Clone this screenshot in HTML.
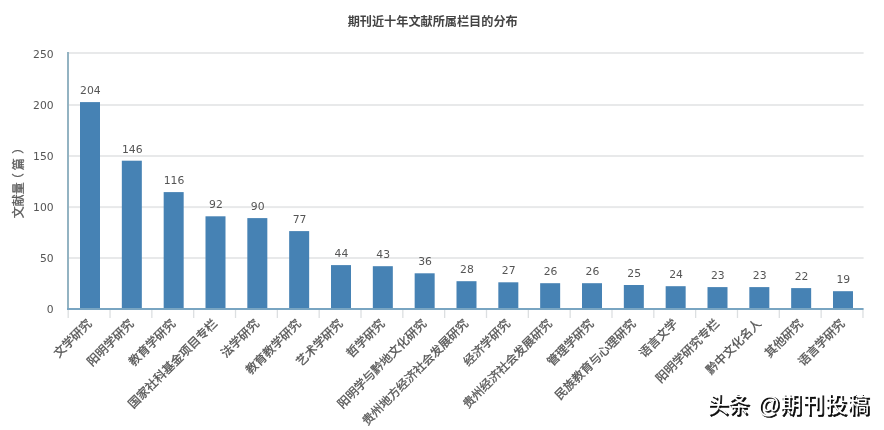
<!DOCTYPE html>
<html lang="zh-CN"><head><meta charset="utf-8"><title>期刊近十年文献所属栏目的分布</title>
<style>
html,body{margin:0;padding:0;background:#fff;}
body{width:884px;height:430px;overflow:hidden;font-family:"Liberation Sans","Noto Sans CJK SC",sans-serif;}
svg{display:block;}
.t{font-family:"Liberation Sans","Noto Sans CJK SC",sans-serif;font-weight:bold;font-size:12.15px;fill:#444;}
.yl{font-family:"DejaVu Sans","Noto Sans CJK SC",sans-serif;font-size:10.75px;fill:#555;}
.dl{font-family:"DejaVu Sans","Noto Sans CJK SC",sans-serif;font-size:10.8px;fill:#555;}
.xl{font-family:"Liberation Sans","Noto Sans CJK SC",sans-serif;font-size:12px;fill:#555;stroke:#555;stroke-width:0.3;}
.yt{font-family:"Liberation Sans","Noto Sans CJK SC",sans-serif;font-size:12px;fill:#5a5a5a;stroke:#5a5a5a;stroke-width:0.3;}
.wm{font-family:"Liberation Sans","Noto Sans CJK SC",sans-serif;font-size:21.2px;font-weight:400;}
</style></head><body>
<svg width="884" height="430" viewBox="0 0 884 430">
<rect width="884" height="430" fill="#ffffff"/>
<text class="t" x="432.7" y="26.3" text-anchor="middle">期刊近十年文献所属栏目的分布</text>
<rect x="68.0" y="257.00" width="795.60" height="2" fill="#e8e9ea"/>
<rect x="68.0" y="206.10" width="795.60" height="2" fill="#e8e9ea"/>
<rect x="68.0" y="155.00" width="795.60" height="2" fill="#e8e9ea"/>
<rect x="68.0" y="104.00" width="795.60" height="2" fill="#e8e9ea"/>
<rect x="68.0" y="52.00" width="795.60" height="2" fill="#e8e9ea"/>
<text class="yl" x="53.6" y="312.80" text-anchor="end">0</text>
<text class="yl" x="53.6" y="261.82" text-anchor="end">50</text>
<text class="yl" x="53.6" y="210.84" text-anchor="end">100</text>
<text class="yl" x="53.6" y="159.86" text-anchor="end">150</text>
<text class="yl" x="53.6" y="108.88" text-anchor="end">200</text>
<text class="yl" x="53.6" y="57.90" text-anchor="end">250</text>
<line x1="68.20" y1="310.0" x2="68.20" y2="318.0" stroke="#dcdfe1" stroke-width="1.3"/>
<line x1="110.03" y1="310.0" x2="110.03" y2="318.0" stroke="#dcdfe1" stroke-width="1.3"/>
<line x1="151.86" y1="310.0" x2="151.86" y2="318.0" stroke="#dcdfe1" stroke-width="1.3"/>
<line x1="193.69" y1="310.0" x2="193.69" y2="318.0" stroke="#dcdfe1" stroke-width="1.3"/>
<line x1="235.52" y1="310.0" x2="235.52" y2="318.0" stroke="#dcdfe1" stroke-width="1.3"/>
<line x1="277.35" y1="310.0" x2="277.35" y2="318.0" stroke="#dcdfe1" stroke-width="1.3"/>
<line x1="319.18" y1="310.0" x2="319.18" y2="318.0" stroke="#dcdfe1" stroke-width="1.3"/>
<line x1="361.01" y1="310.0" x2="361.01" y2="318.0" stroke="#dcdfe1" stroke-width="1.3"/>
<line x1="402.84" y1="310.0" x2="402.84" y2="318.0" stroke="#dcdfe1" stroke-width="1.3"/>
<line x1="444.67" y1="310.0" x2="444.67" y2="318.0" stroke="#dcdfe1" stroke-width="1.3"/>
<line x1="486.50" y1="310.0" x2="486.50" y2="318.0" stroke="#dcdfe1" stroke-width="1.3"/>
<line x1="528.33" y1="310.0" x2="528.33" y2="318.0" stroke="#dcdfe1" stroke-width="1.3"/>
<line x1="570.16" y1="310.0" x2="570.16" y2="318.0" stroke="#dcdfe1" stroke-width="1.3"/>
<line x1="611.99" y1="310.0" x2="611.99" y2="318.0" stroke="#dcdfe1" stroke-width="1.3"/>
<line x1="653.82" y1="310.0" x2="653.82" y2="318.0" stroke="#dcdfe1" stroke-width="1.3"/>
<line x1="695.65" y1="310.0" x2="695.65" y2="318.0" stroke="#dcdfe1" stroke-width="1.3"/>
<line x1="737.48" y1="310.0" x2="737.48" y2="318.0" stroke="#dcdfe1" stroke-width="1.3"/>
<line x1="779.31" y1="310.0" x2="779.31" y2="318.0" stroke="#dcdfe1" stroke-width="1.3"/>
<line x1="821.14" y1="310.0" x2="821.14" y2="318.0" stroke="#dcdfe1" stroke-width="1.3"/>
<line x1="862.97" y1="310.0" x2="862.97" y2="318.0" stroke="#dcdfe1" stroke-width="1.3"/>
<rect x="80.00" y="102.10" width="20" height="206.90" fill="#4682b4"/>
<text class="dl" x="90.40" y="93.90" text-anchor="middle">204</text>
<text class="xl" transform="translate(92.60,324.2) rotate(-45)" text-anchor="end">文学研究</text>
<rect x="121.83" y="160.70" width="20" height="148.30" fill="#4682b4"/>
<text class="dl" x="132.23" y="152.50" text-anchor="middle">146</text>
<text class="xl" transform="translate(134.43,324.2) rotate(-45)" text-anchor="end">阳明学研究</text>
<rect x="163.67" y="192.10" width="20" height="116.90" fill="#4682b4"/>
<text class="dl" x="174.07" y="183.90" text-anchor="middle">116</text>
<text class="xl" transform="translate(176.27,324.2) rotate(-45)" text-anchor="end">教育学研究</text>
<rect x="205.50" y="216.30" width="20" height="92.70" fill="#4682b4"/>
<text class="dl" x="215.90" y="208.10" text-anchor="middle">92</text>
<text class="xl" transform="translate(218.10,324.2) rotate(-45)" text-anchor="end">国家社科基金项目专栏</text>
<rect x="247.33" y="218.10" width="20" height="90.90" fill="#4682b4"/>
<text class="dl" x="257.73" y="209.90" text-anchor="middle">90</text>
<text class="xl" transform="translate(259.93,324.2) rotate(-45)" text-anchor="end">法学研究</text>
<rect x="289.16" y="231.10" width="20" height="77.90" fill="#4682b4"/>
<text class="dl" x="299.56" y="222.90" text-anchor="middle">77</text>
<text class="xl" transform="translate(301.76,324.2) rotate(-45)" text-anchor="end">教育教学研究</text>
<rect x="331.00" y="265.10" width="20" height="43.90" fill="#4682b4"/>
<text class="dl" x="341.40" y="256.90" text-anchor="middle">44</text>
<text class="xl" transform="translate(343.60,324.2) rotate(-45)" text-anchor="end">艺术学研究</text>
<rect x="372.83" y="266.20" width="20" height="42.80" fill="#4682b4"/>
<text class="dl" x="383.23" y="258.00" text-anchor="middle">43</text>
<text class="xl" transform="translate(385.43,324.2) rotate(-45)" text-anchor="end">哲学研究</text>
<rect x="414.66" y="273.30" width="20" height="35.70" fill="#4682b4"/>
<text class="dl" x="425.06" y="265.10" text-anchor="middle">36</text>
<text class="xl" transform="translate(427.26,324.2) rotate(-45)" text-anchor="end">阳明学与黔地文化研究</text>
<rect x="456.50" y="281.20" width="20" height="27.80" fill="#4682b4"/>
<text class="dl" x="466.90" y="273.00" text-anchor="middle">28</text>
<text class="xl" transform="translate(469.10,324.2) rotate(-45)" text-anchor="end">贵州地方经济社会发展研究</text>
<rect x="498.33" y="282.30" width="20" height="26.70" fill="#4682b4"/>
<text class="dl" x="508.73" y="274.10" text-anchor="middle">27</text>
<text class="xl" transform="translate(510.93,324.2) rotate(-45)" text-anchor="end">经济学研究</text>
<rect x="540.16" y="283.20" width="20" height="25.80" fill="#4682b4"/>
<text class="dl" x="550.56" y="275.00" text-anchor="middle">26</text>
<text class="xl" transform="translate(552.76,324.2) rotate(-45)" text-anchor="end">贵州经济社会发展研究</text>
<rect x="582.00" y="283.20" width="20" height="25.80" fill="#4682b4"/>
<text class="dl" x="592.40" y="275.00" text-anchor="middle">26</text>
<text class="xl" transform="translate(594.60,324.2) rotate(-45)" text-anchor="end">管理学研究</text>
<rect x="623.83" y="285.00" width="20" height="24.00" fill="#4682b4"/>
<text class="dl" x="634.23" y="276.80" text-anchor="middle">25</text>
<text class="xl" transform="translate(636.43,324.2) rotate(-45)" text-anchor="end">民族教育与心理研究</text>
<rect x="665.66" y="286.20" width="20" height="22.80" fill="#4682b4"/>
<text class="dl" x="676.06" y="278.00" text-anchor="middle">24</text>
<text class="xl" transform="translate(678.26,324.2) rotate(-45)" text-anchor="end">语言文学</text>
<rect x="707.50" y="287.10" width="20" height="21.90" fill="#4682b4"/>
<text class="dl" x="717.89" y="278.90" text-anchor="middle">23</text>
<text class="xl" transform="translate(720.10,324.2) rotate(-45)" text-anchor="end">阳明学研究专栏</text>
<rect x="749.33" y="287.10" width="20" height="21.90" fill="#4682b4"/>
<text class="dl" x="759.73" y="278.90" text-anchor="middle">23</text>
<text class="xl" transform="translate(761.93,324.2) rotate(-45)" text-anchor="end">黔中文化名人</text>
<rect x="791.16" y="288.10" width="20" height="20.90" fill="#4682b4"/>
<text class="dl" x="801.56" y="279.90" text-anchor="middle">22</text>
<text class="xl" transform="translate(803.76,324.2) rotate(-45)" text-anchor="end">其他研究</text>
<rect x="832.99" y="291.20" width="20" height="17.80" fill="#4682b4"/>
<text class="dl" x="843.39" y="283.00" text-anchor="middle">19</text>
<text class="xl" transform="translate(845.59,324.2) rotate(-45)" text-anchor="end">语言学研究</text>
<line x1="68.0" y1="52" x2="68.0" y2="310.0" stroke="#93b3c2" stroke-width="2"/>
<line x1="67.0" y1="309.0" x2="863.6" y2="309.0" stroke="#79a5c2" stroke-width="2"/>
<text class="yt" transform="translate(22.7,218.3) rotate(-90)">文献量<tspan dx="-3">（</tspan><tspan dx="3">篇</tspan><tspan dx="4.4">）</tspan></text>
<text class="wm" y="413.50" fill="#0d0d0d" font-weight="400" stroke="#0d0d0d" stroke-width="0.7"><tspan x="709.30" textLength="41.6" lengthAdjust="spacingAndGlyphs">头条</tspan><tspan x="759.10" dy="0.8" font-size="24.5" textLength="22.6" lengthAdjust="spacingAndGlyphs">@</tspan><tspan x="782.10" dy="-0.8" textLength="88.6" lengthAdjust="spacing">期刊投稿</tspan></text>
<text class="wm" y="412.00" fill="#ffffff" font-weight="400"><tspan x="707.80" textLength="41.6" lengthAdjust="spacingAndGlyphs">头条</tspan><tspan x="757.60" dy="0.8" font-size="24.5" textLength="22.6" lengthAdjust="spacingAndGlyphs">@</tspan><tspan x="780.60" dy="-0.8" textLength="88.6" lengthAdjust="spacing">期刊投稿</tspan></text>
</svg>
</body></html>
